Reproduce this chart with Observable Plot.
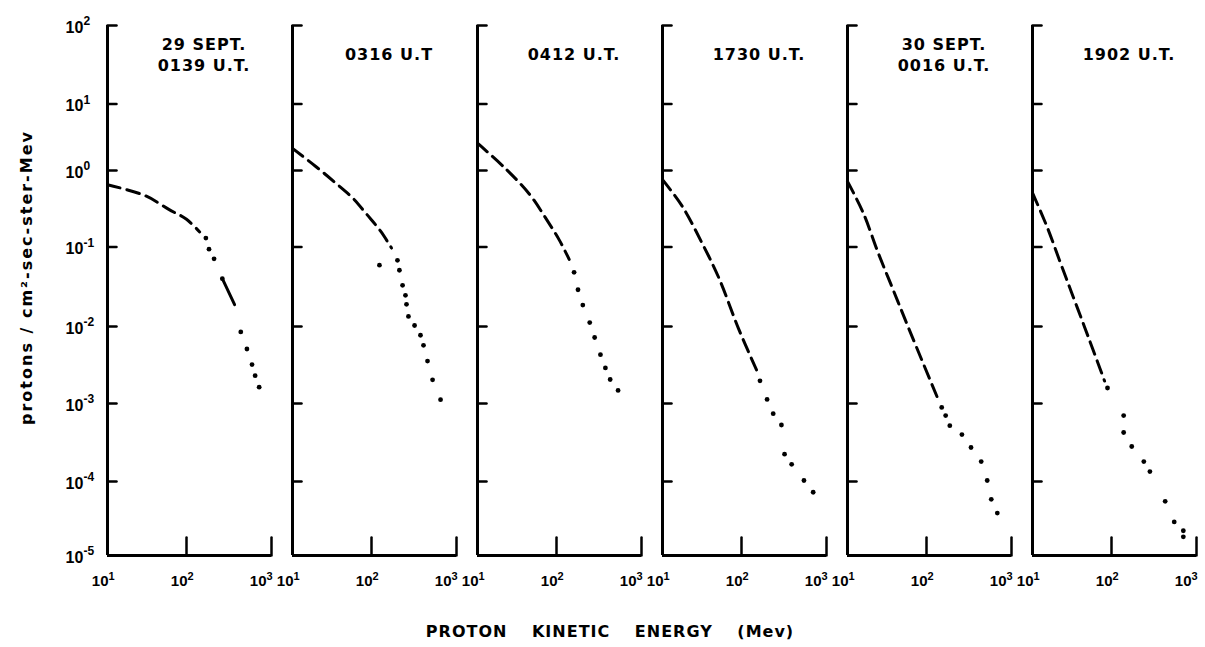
<!DOCTYPE html>
<html>
<head>
<meta charset="utf-8">
<script src="https://cdn.jsdelivr.net/npm/d3@7"></script>
<script src="https://cdn.jsdelivr.net/npm/@observablehq/plot@0.6"></script>
<style>
  body { margin: 0; background: #fff; overflow: hidden; }
  #wrap { position: relative; width: 1205px; height: 647px; background: #fff; color: #000; overflow: hidden; }
  #xlabel { position: absolute; left: 610px; top: 622px; transform: translateX(-50%); white-space: nowrap;
            font: bold 16px "DejaVu Sans", sans-serif; letter-spacing: 1px; word-spacing: 18px; color: #000; }
</style>
</head>
<body>
<div id="wrap"><div id="chart"></div><div id="xlabel">PROTON KINETIC ENERGY (Mev)</div></div>
<script>
// Panel titles (time of each spectrum)
const titles = ["29 SEPT.\n0139 U.T.", "0316 U.T", "0412 U.T.", "1730 U.T.", "30 SEPT.\n0016 U.T.", "1902 U.T."];
const yLabel = "protons / cm²-sec-ster-Mev";

// Axis tick values
const yTicks = [1e-5, 1e-4, 1e-3, 1e-2, 1e-1, 1e0, 1e1, 1e2];
const yTickMarks = [1e-4, 1e-3, 1e-2, 1e-1, 1e0, 1e1, 1e2];
const xTicksLow = [10, 100];
const xTicksHigh = [1000];
const xTickMarks = [100, 1000];

// Dashed (smoothed) parts of each spectrum: [energy MeV, flux]
const p1Dash = [[10, 0.65], [29.8, 0.47], [59.7, 0.31], [100, 0.23], [143, 0.157]];
const p2Dash = [[10, 2.15], [19.7, 1.15], [35.5, 0.68], [58.7, 0.43], [86.3, 0.27], [128, 0.161], [172, 0.097]];
const p3Dash = [[10, 2.57], [22.6, 1.07], [45.5, 0.49], [72.7, 0.24], [108, 0.123], [141, 0.070]];
const p4Dash = [[10, 0.76], [17.8, 0.34], [31.6, 0.113], [51.6, 0.041], [91.7, 0.0094], [152, 0.00265]];
const p5Dash = [[10, 0.72], [15.8, 0.28], [24.5, 0.084], [38, 0.0286], [59, 0.0097], [139, 0.00109]];
const p6Dash = [[10, 0.51], [15.3, 0.183], [22.6, 0.063], [31.3, 0.0266], [45.2, 0.0101], [57.9, 0.0051], [81.7, 0.00196]];

// Short solid segment (panel 1)
const p1Solid = [[264, 0.040], [368, 0.0188]];

// Measured points of each spectrum: [energy MeV, flux]
const p1Dots = [[169, 0.131], [184, 0.094], [211, 0.071], [264, 0.040], [435, 0.0085], [514, 0.0051], [590, 0.0032], [642, 0.0023], [716, 0.00163]];
const p2Dots = [[124, 0.059], [202, 0.068], [213, 0.051], [232, 0.033], [251, 0.0247], [258, 0.019], [272, 0.0134], [321, 0.0103], [377, 0.0077], [409, 0.0057], [456, 0.00356], [523, 0.00203], [649, 0.00112]];
const p3Dots = [[161, 0.048], [179, 0.029], [204, 0.0186], [246, 0.0112], [281, 0.0072], [329, 0.0043], [376, 0.0029], [428, 0.00205], [530, 0.00148]];
const p4Dots = [[165, 0.00197], [200, 0.00113], [236, 0.00074], [295, 0.00053], [321, 0.000224], [389, 0.000166], [543, 0.000103], [697, 0.0000716]];
const p5Dots = [[151, 0.00089], [168, 0.0007], [188, 0.00052], [261, 0.0004], [334, 0.000273], [440, 0.00018], [518, 0.000103], [578, 0.0000575], [681, 0.0000374]];
const p6Dots = [[89, 0.00159], [139, 0.0007], [139, 0.000425], [173, 0.000281], [240, 0.00018], [283, 0.000134], [428, 0.000054], [547, 0.0000284], [700, 0.0000216], [700, 0.0000179]];

const toRows = (lists) => lists.flatMap((arr, i) => arr.map(([E, F]) => ({panel: titles[i], E, F})));
const dashRows = toRows([p1Dash, p2Dash, p3Dash, p4Dash, p5Dash, p6Dash]);
const dotRows = toRows([p1Dots, p2Dots, p3Dots, p4Dots, p5Dots, p6Dots]);
const solidRows = toRows([p1Solid]);

const expo = d => String(Math.round(Math.log10(d)));
const lineShape = {draw(context, l) { context.moveTo(0, 0); context.lineTo(0, -l); }};
const numFont = "Liberation Sans";
const numStyle = {fontWeight: "bold", fontFamily: numFont, fill: "black"};

// "10" + raised exponent below the x axis of every panel
const xLabelMarks = (ticks, shift) => [
  Plot.text(ticks, {x: d => d, y: 1e-5, text: () => "10", textAnchor: "end", dx: shift, dy: 26, fontSize: 15, ...numStyle}),
  Plot.text(ticks, {x: d => d, y: 1e-5, text: expo, textAnchor: "start", dx: shift, dy: 21, fontSize: 11, ...numStyle})
];

const chart = Plot.plot({
  width: 1205,
  height: 600,
  marginLeft: 104,
  marginRight: 7,
  marginTop: 25,
  marginBottom: 45,
  style: {background: "white", color: "black", fontFamily: "DejaVu Sans"},
  fx: {domain: titles, axis: null, paddingInner: 0.118, paddingOuter: 0},
  x: {type: "log", domain: [10, 100, 1000], range: [104, 183, 268], axis: null},
  y: {type: "log", domain: yTicks, range: [555, 481, 403, 326, 246.5, 170, 103.5, 25], axis: null},
  marks: [
    Plot.ruleX([10], {y1: 1e-5, y2: 1e2, strokeWidth: 3, stroke: "black"}),
    Plot.ruleY([1e-5], {x1: 10, x2: 1000, strokeWidth: 3, stroke: "black"}),
    Plot.vector(yTickMarks, {x: 10, y: d => d, length: 9, rotate: 90, anchor: "start", shape: lineShape, strokeWidth: 2.5, stroke: "black"}),
    Plot.vector(xTickMarks, {x: d => d, y: 1e-5, length: 18, rotate: 0, anchor: "start", shape: lineShape, strokeWidth: 2.5, stroke: "black"}),
    Plot.line(dashRows, {fx: "panel", x: "E", y: "F", curve: "catmull-rom", stroke: "black", strokeWidth: 3, strokeDasharray: "13,7"}),
    Plot.line(solidRows, {fx: "panel", x: "E", y: "F", stroke: "black", strokeWidth: 3}),
    Plot.dot(dotRows, {fx: "panel", x: "E", y: "F", r: 2.4, fill: "black", stroke: "none"}),
    Plot.text(titles, {fx: d => d, text: d => d, frameAnchor: "top", dx: 15, dy: 28, lineAnchor: "middle", lineHeight: 1.3, fontSize: 16, fontWeight: "bold", fill: "black"}),
    Plot.text(yTicks, {fx: () => titles[0], x: 10, y: d => d, text: () => "10", textAnchor: "start", dx: -42, dy: 2, fontSize: 16, ...numStyle}),
    Plot.text(yTicks, {fx: () => titles[0], x: 10, y: d => d, text: expo, textAnchor: "start", dx: -24, dy: -4, fontSize: 12, ...numStyle}),
    ...xLabelMarks(xTicksLow, 1),
    ...xLabelMarks(xTicksHigh, -5),
    Plot.text([yLabel], {fx: () => titles[0], text: d => d, frameAnchor: "left", textAnchor: "middle", rotate: -90, dx: -81, dy: -13, fontSize: 16, fontWeight: "bold", fill: "black"})
  ]
});

// Wider lettering for the titles and the y label, like the hand-lettered original
const flatTitles = titles.map(t => t.replace("\n", ""));
d3.select(chart).selectAll("text").each(function() {
  const s = this.textContent;
  if (s === yLabel) this.style.letterSpacing = "2px";
  else if (flatTitles.includes(s)) this.style.letterSpacing = "1px";
});
document.getElementById("chart").appendChild(chart);
</script>
</body>
</html>
